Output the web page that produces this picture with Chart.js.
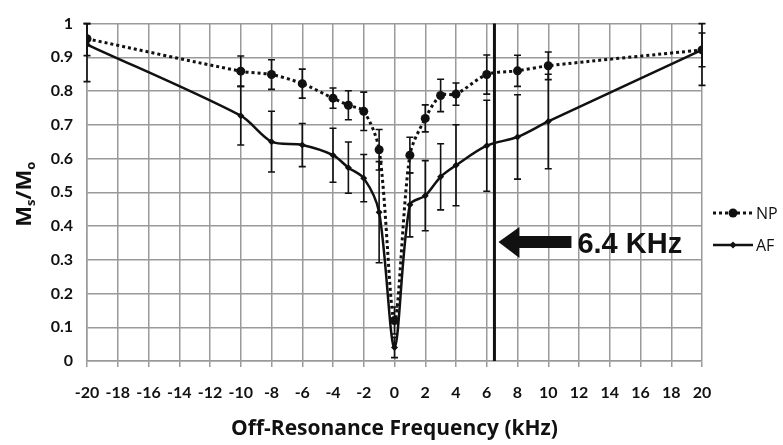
<!DOCTYPE html>
<html>
<head>
<meta charset="utf-8">
<script src="https://cdn.jsdelivr.net/npm/chart.js@4"></script>
<style>
  html, body { margin: 0; padding: 0; background: #fff; }
  #wrap { width: 783px; height: 445px; }
</style>
</head>
<body>
<div id="wrap"><canvas id="chart" width="783" height="445"></canvas></div>
<script>
const freq = [-20, -10, -8, -6, -4, -3, -2, -1, 0, 1, 2, 3, 4, 6, 8, 10, 20];
const npValues = [0.955, 0.859, 0.849, 0.822, 0.779, 0.758, 0.740, 0.626, 0.12, 0.610, 0.719, 0.787, 0.791, 0.849, 0.860, 0.875, 0.922];
const npErrors = [0.05, 0.045, 0.044, 0.043, 0.03, 0.043, 0.057, 0.06, 0.04, 0.053, 0.04, 0.048, 0.033, 0.058, 0.046, 0.041, 0.05];
const afValues = [0.938, 0.727, 0.650, 0.640, 0.610, 0.573, 0.542, 0.441, 0.04, 0.463, 0.490, 0.546, 0.580, 0.638, 0.664, 0.710, 0.922];
const afErrors = [0.11, 0.087, 0.09, 0.064, 0.08, 0.076, 0.07, 0.15, 0.03, 0.095, 0.104, 0.098, 0.12, 0.135, 0.125, 0.14, 0.105];
const markerFreq = 6.5;
const markerLabel = '6.4 KHz';
const seriesNames = ['NP', 'AF'];

const TICK_FONT = {family: 'Lato', size: 16, weight: 'bold'};

function toPoints(values) {
    return freq.map((f, i) => ({x: f, y: values[i]}));
}

const errorBars = {
    id: 'errorBars',
    afterDatasetsDraw(chart) {
        const ctx = chart.ctx;
        const xs = chart.scales.x, ys = chart.scales.y;
        const area = chart.chartArea;
        const sets = [npErrors, afErrors];
        ctx.save();
        ctx.strokeStyle = '#111';
        ctx.lineWidth = 1.6;
        chart.data.datasets.forEach((ds, d) => {
            ds.data.forEach((p, i) => {
                const px = xs.getPixelForValue(p.x);
                const top = Math.max(ys.getPixelForValue(p.y + sets[d][i]), area.top);
                const bot = Math.min(ys.getPixelForValue(p.y - sets[d][i]), area.bottom);
                ctx.beginPath();
                ctx.moveTo(px, top); ctx.lineTo(px, bot);
                ctx.moveTo(px - 3.5, top); ctx.lineTo(px + 3.5, top);
                ctx.moveTo(px - 3.5, bot); ctx.lineTo(px + 3.5, bot);
                ctx.stroke();
            });
        });
        ctx.restore();
    }
};

const annotations = {
    id: 'annotations',
    afterDraw(chart) {
        const ctx = chart.ctx;
        const xs = chart.scales.x;
        const area = chart.chartArea;
        ctx.save();

        // vertical marker line
        const lx = xs.getPixelForValue(markerFreq);
        ctx.strokeStyle = '#111';
        ctx.lineWidth = 3;
        ctx.beginPath();
        ctx.moveTo(lx, area.top);
        ctx.lineTo(lx, area.bottom);
        ctx.stroke();

        // arrow
        const ay = 242;
        ctx.fillStyle = '#111';
        ctx.beginPath();
        ctx.moveTo(lx + 4, ay);
        ctx.lineTo(lx + 25, ay - 15);
        ctx.lineTo(lx + 25, ay - 6);
        ctx.lineTo(lx + 77, ay - 6);
        ctx.lineTo(lx + 77, ay + 6);
        ctx.lineTo(lx + 25, ay + 6);
        ctx.lineTo(lx + 25, ay + 16);
        ctx.closePath();
        ctx.fill();

        ctx.font = 'bold 29px "Liberation Sans", Arial, sans-serif';
        ctx.textBaseline = 'alphabetic';
        ctx.textAlign = 'left';
        ctx.fillText(markerLabel, lx + 83, 253);

        // y axis title M_s / M_o
        ctx.translate(25, (area.top + area.bottom) / 2 + 2);
        ctx.rotate(-Math.PI / 2);
        const big = 'bold 22px "Open Sans", sans-serif';
        const small = 'bold 13px "Open Sans", sans-serif';
        const parts = [['M', big, 0], ['s', small, 6], ['/M', big, 0], ['o', small, 6]];
        let w = 0;
        parts.forEach(p => { ctx.font = p[1]; w += ctx.measureText(p[0]).width; });
        let cx = -w / 2;
        ctx.textBaseline = 'middle';
        parts.forEach(p => {
            ctx.font = p[1];
            ctx.fillText(p[0], cx, p[2]);
            cx += ctx.measureText(p[0]).width;
        });
        ctx.restore();

        // x axis title
        ctx.save();
        ctx.fillStyle = '#111';
        ctx.font = 'bold 21px "Open Sans", sans-serif';
        ctx.textAlign = 'center';
        ctx.textBaseline = 'middle';
        ctx.fillText('Off-Resonance Frequency (kHz)', (area.left + area.right) / 2, 429);

        // legend
        const rows = [213, 245];
        chart.data.datasets.forEach((ds, d) => {
            const y = rows[d];
            ctx.strokeStyle = '#111';
            ctx.lineWidth = ds.borderWidth;
            ctx.setLineDash(ds.borderDash || []);
            ctx.beginPath();
            ctx.moveTo(713, y);
            ctx.lineTo(753, y);
            ctx.stroke();
            ctx.setLineDash([]);
            ctx.fillStyle = '#111';
            ctx.beginPath();
            if (ds.pointStyle === 'rectRot') {
                const r = ds.pointRadius;
                ctx.moveTo(733, y - r); ctx.lineTo(733 + r, y);
                ctx.lineTo(733, y + r); ctx.lineTo(733 - r, y);
                ctx.closePath();
            } else {
                ctx.arc(733, y, ds.pointRadius, 0, Math.PI * 2);
            }
            ctx.fill();
            ctx.font = '16px "Open Sans", sans-serif';
            ctx.textAlign = 'left';
            ctx.fillText(ds.label, 756, y + 1);
        });
        ctx.restore();
    }
};

new Chart(document.getElementById('chart'), {
    type: 'line',
    data: {
        datasets: [{
            label: seriesNames[0],
            data: toPoints(npValues),
            borderColor: '#111',
            backgroundColor: '#111',
            borderWidth: 3,
            borderDash: [3, 3],
            tension: 0.3,
            pointStyle: 'circle',
            pointRadius: 4.5,
            pointBorderWidth: 0
        }, {
            label: seriesNames[1],
            data: toPoints(afValues),
            borderColor: '#111',
            backgroundColor: '#111',
            borderWidth: 2.5,
            tension: 0.3,
            pointStyle: 'rectRot',
            pointRadius: 3.5,
            pointBorderWidth: 0
        }]
    },
    options: {
        responsive: false,
        animation: false,
        layout: {padding: {left: 0, top: 13, right: 81, bottom: 0}},
        plugins: {
            legend: {display: false},
            tooltip: {enabled: false}
        },
        scales: {
            x: {
                type: 'linear',
                min: -20,
                max: 20,
                ticks: {stepSize: 2, color: '#111', font: TICK_FONT, padding: 16, maxRotation: 0},
                grid: {color: '#9a9a9a', lineWidth: 1.5, tickLength: 6},
                border: {color: '#9a9a9a', width: 1.5},
                afterFit(scale) { scale.height = 84; }
            },
            y: {
                min: 0,
                max: 1,
                ticks: {stepSize: 0.1, color: '#111', font: TICK_FONT, padding: 14,
                    callback: v => Math.round(v * 10) / 10},
                grid: {color: '#9a9a9a', lineWidth: 1.5, tickLength: 0},
                border: {color: '#9a9a9a', width: 1.5},
                afterFit(scale) { scale.width = 87; }
            }
        }
    },
    plugins: [errorBars, annotations]
});
</script>
</body>
</html>
